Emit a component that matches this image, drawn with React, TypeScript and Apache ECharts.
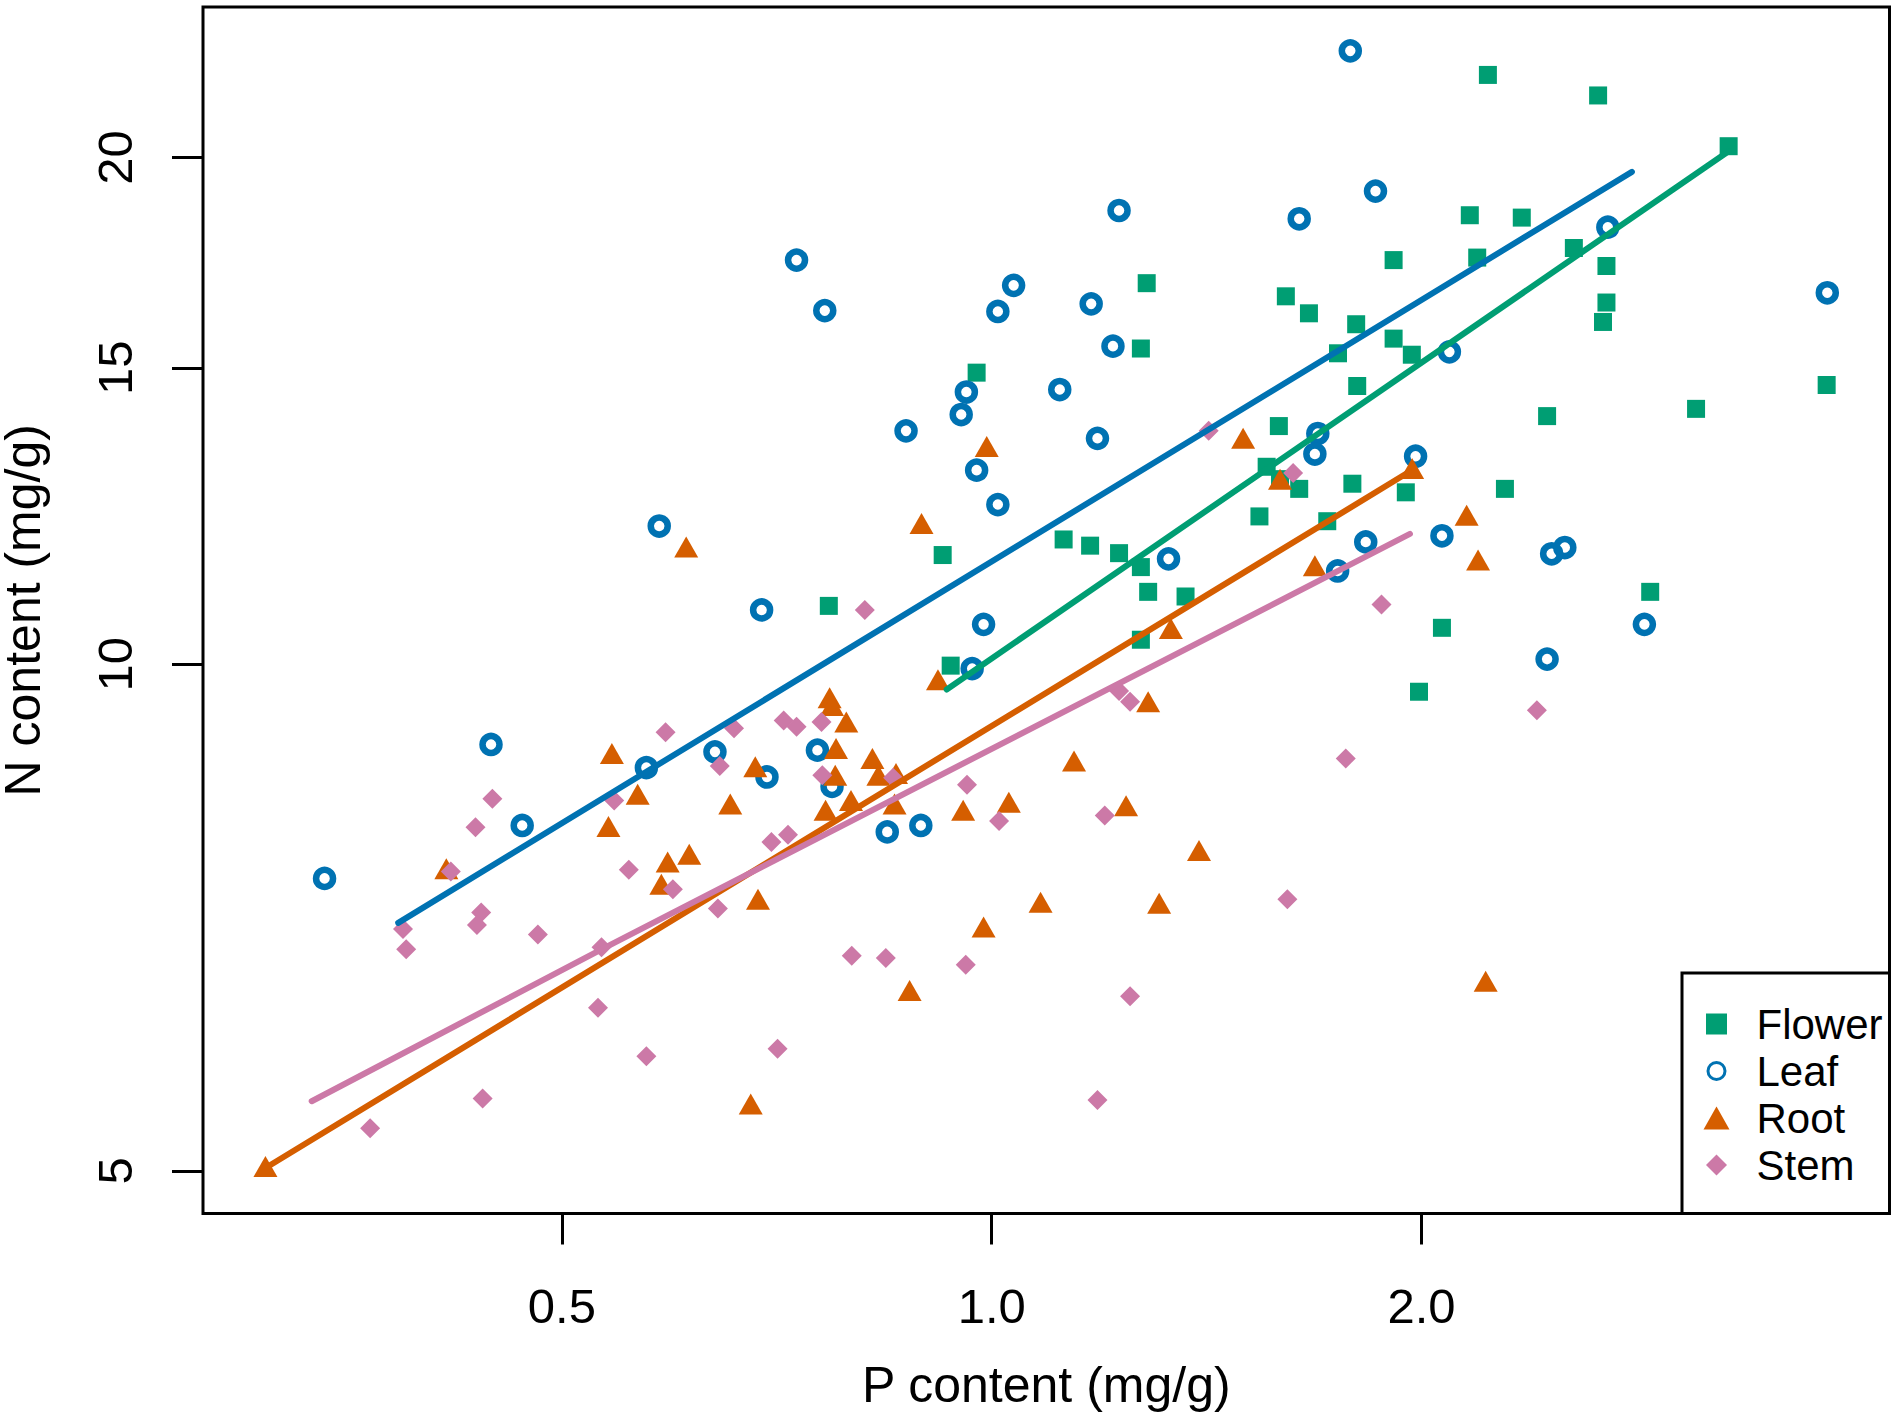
import React, { useEffect, useRef } from 'react';
import * as echarts from 'echarts';

// ---- data (P content, N content; mg/g) ----
const groupNames = ['Flower', 'Leaf', 'Root', 'Stem'];
const groupColors = ['#009E73', '#0072B2', '#D55E00', '#CC79A7'];

const flowerP = [2.226, 2.659, 3.282, 2.162, 2.351, 2.557, 1.912, 2.188, 2.695, 1.284, 1.607, 2.695, 1.668, 1.8, 2.68, 1.912, 1.272, 1.748, 1.969, 0.976, 3.844, 1.803, 3.114, 2.449, 1.589, 1.558, 1.592, 1.642, 1.789, 2.288, 1.95, 1.54, 1.718, 1.123, 1.172, 1.228, 0.924, 1.272, 1.287, 1.367, 2.892, 0.769, 1.272, 2.067, 0.936, 1.992];
const flowerN = [22.39, 21.77, 20.31, 18.48, 18.42, 17.67, 17.38, 17.44, 17.24, 16.84, 16.54, 16.4, 16.16, 15.92, 15.97, 15.61, 15.4, 15.3, 15.27, 14.9, 14.65, 14.63, 14.18, 14.04, 13.85, 13.1, 12.88, 12.71, 12.8, 12.71, 12.65, 12.24, 12.16, 11.86, 11.76, 11.64, 11.61, 11.42, 11.04, 10.97, 11.04, 10.83, 10.34, 10.51, 9.98, 9.63];

const leafP = [1.783, 1.857, 1.228, 1.642, 2.701, 0.73, 1.036, 3.848, 1.174, 1.01, 0.764, 1.216, 2.092, 1.116, 0.96, 0.952, 0.871, 1.186, 1.692, 1.684, 0.976, 1.981, 1.01, 0.585, 1.828, 2.067, 2.52, 2.467, 1.33, 1.747, 0.69, 0.987, 2.865, 2.449, 0.969, 0.446, 0.64, 0.755, 0.573, 0.696, 0.773, 0.469, 0.892, 0.845, 0.341];
const leafN = [23.14, 19.1, 18.6, 18.39, 18.18, 17.38, 16.79, 16.62, 16.37, 16.2, 16.22, 15.45, 15.33, 14.56, 14.51, 14.07, 13.76, 13.62, 13.71, 13.33, 13.04, 13.29, 12.44, 12.08, 11.82, 11.92, 11.73, 11.63, 11.55, 11.36, 10.77, 10.56, 10.56, 10.07, 9.94, 8.96, 8.87, 8.89, 8.68, 8.57, 8.46, 8.02, 8.02, 7.95, 7.46];

const rootP = [0.992, 1.5, 1.592, 1.97, 0.893, 0.611, 2.151, 2.191, 1.684, 1.335, 0.917, 0.77, 0.773, 0.791, 0.542, 0.778, 1.142, 0.683, 0.825, 0.857, 0.833, 0.777, 0.565, 0.656, 0.797, 1.028, 0.855, 0.765, 0.955, 1.242, 0.539, 0.614, 0.593, 1.397, 0.415, 0.587, 0.686, 1.082, 1.31, 0.987, 0.876, 2.218, 0.678, 0.31, 1.287];
const rootN = [13.47, 13.62, 12.88, 13.07, 12.12, 11.74, 12.26, 11.53, 11.44, 10.5, 9.79, 9.55, 9.45, 9.24, 8.85, 8.91, 8.76, 8.69, 8.79, 8.61, 8.59, 8.59, 8.37, 8.26, 8.3, 8.28, 8.26, 8.19, 8.19, 8.24, 8.01, 7.71, 7.63, 7.75, 7.56, 7.4, 7.25, 7.22, 7.21, 6.98, 6.4, 6.48, 5.48, 5.03, 9.5];

const stemP = [1.419, 1.626, 0.815, 1.875, 1.228, 1.25, 2.409, 0.591, 0.66, 0.715, 0.73, 0.76, 1.77, 0.645, 0.761, 0.853, 0.544, 0.447, 0.961, 1.2, 1.012, 0.435, 0.72, 0.701, 0.557, 0.418, 0.598, 0.643, 0.439, 0.436, 0.387, 0.481, 0.389, 0.533, 0.798, 0.843, 0.959, 1.611, 0.53, 1.25, 0.708, 0.573, 0.44, 1.186, 0.367];
const stemN = [13.76, 12.99, 10.77, 10.85, 9.64, 9.5, 9.39, 9.11, 9.16, 9.26, 9.18, 9.24, 8.79, 8.7, 8.59, 8.56, 8.3, 8.32, 8.48, 8.13, 8.07, 8.0, 7.92, 7.84, 7.55, 7.53, 7.35, 7.16, 7.12, 7.0, 6.96, 6.91, 6.77, 6.79, 6.71, 6.69, 6.63, 7.25, 6.25, 6.35, 5.91, 5.85, 5.52, 5.51, 5.3];

// fitted lines (end points)
const flowerFitP = [0.93, 3.282];
const flowerFitN = [9.66, 20.17];
const leafFitP = [0.384, 2.808];
const leafFitN = [7.02, 19.61];
const rootFitP = [0.31, 1.961];
const rootFitN = [5.02, 13.01];
const stemFitP = [0.334, 0.533, 1.963];
const stemFitN = [5.5, 6.77, 11.95];

// axes
const xTicks = [0.5, 1, 2];
const yTicks = [5, 10, 15, 20];
const xRange = [0.2803, 4.254];
const yRange = [4.717, 24.57];

const FONT = "'Liberation Sans', Arial, Helvetica, sans-serif";

const zip = (p: number[], n: number[]) => p.map((v, i) => [v, n[i]]);

const legendIcons = [
  'path://M0,0M26,26M2.5,2.5L23.5,2.5L23.5,23.5L2.5,23.5Z',
  'path://M0,0M26,26M21.5,13A8.5,8.5,0,1,1,4.5,13A8.5,8.5,0,1,1,21.5,13Z',
  'path://M0,0M26,26M13,1.5L26,24.5L0,24.5Z',
  'path://M0,0M26,26M13,2.5L23.5,13L13,23.5L2.5,13Z',
];

function buildOption() {
  const pts = [zip(flowerP, flowerN), zip(leafP, leafN), zip(rootP, rootN), zip(stemP, stemN)];
  const fits = [zip(flowerFitP, flowerFitN), zip(leafFitP, leafFitN), zip(rootFitP, rootFitN), zip(stemFitP, stemFitN)];

  const scatterStyles: any[] = [
    { symbol: 'rect', symbolSize: 18, itemStyle: { color: groupColors[0], opacity: 1 } },
    { symbol: 'circle', symbolSize: 17, itemStyle: { color: 'rgba(0,0,0,0)', borderColor: groupColors[1], borderWidth: 6.5, opacity: 1 } },
    { symbol: 'triangle', symbolSize: [24, 21], itemStyle: { color: groupColors[2], opacity: 1 } },
    { symbol: 'diamond', symbolSize: 20, itemStyle: { color: groupColors[3], opacity: 1 } },
  ];

  const series: any[] = [];
  groupNames.forEach((name, i) => {
    series.push({
      type: 'scatter',
      name,
      data: pts[i],
      ...scatterStyles[i],
      silent: true,
      emphasis: { disabled: true },
      z: 2,
    });
  });
  groupNames.forEach((name, i) => {
    series.push({
      type: 'line',
      name: name + ' fit',
      data: fits[i],
      symbol: 'none',
      showSymbol: false,
      lineStyle: { color: groupColors[i], width: 6, cap: 'round', opacity: 1 },
      itemStyle: { color: groupColors[i] },
      silent: true,
      emphasis: { disabled: true },
      z: 3,
    });
  });

  const labelStyle = { fontSize: 49, lineHeight: 49, color: '#000', fontFamily: FONT };
  const nameStyle = { fontSize: 50, lineHeight: 40, color: '#000', fontFamily: FONT };

  return {
    animation: false,
    backgroundColor: '#ffffff',
    textStyle: { fontFamily: FONT, color: '#000' },
    grid: {
      left: 203,
      right: 7.5,
      top: 7,
      bottom: 204.5,
      show: true,
      borderColor: '#000',
      borderWidth: 3,
      backgroundColor: 'rgba(0,0,0,0)',
      containLabel: false,
      outerBoundsMode: 'none',
    },
    xAxis: {
      type: 'log',
      logBase: 10,
      min: xRange[0],
      max: xRange[1],
      name: 'P content (mg/g)',
      nameLocation: 'middle',
      nameGap: 151,
      nameTextStyle: { ...nameStyle },
      axisLine: { show: false },
      splitLine: { show: false },
      minorTick: { show: false },
      axisTick: { show: true, inside: false, length: 31, lineStyle: { color: '#000', width: 3 }, customValues: xTicks },
      axisLabel: {
        ...labelStyle,
        margin: 68,
        customValues: xTicks,
        formatter: (v: number) => Number(v).toFixed(1),
      },
    },
    yAxis: {
      type: 'log',
      logBase: 10,
      min: yRange[0],
      max: yRange[1],
      name: 'N content (mg/g)',
      nameLocation: 'middle',
      nameRotate: 90,
      nameGap: 160,
      nameTextStyle: { ...nameStyle },
      axisLine: { show: false },
      splitLine: { show: false },
      minorTick: { show: false },
      axisTick: { show: true, inside: false, length: 31, lineStyle: { color: '#000', width: 3 }, customValues: yTicks },
      axisLabel: {
        ...labelStyle,
        rotate: 90,
        margin: 64,
        customValues: yTicks,
        formatter: (v: number) => String(Math.round(Number(v))),
      },
    },
    legend: {
      orient: 'vertical',
      left: 1702,
      top: 1003,
      padding: 0,
      itemWidth: 70,
      itemHeight: 26,
      itemGap: 5,
      selectedMode: false,
      symbolKeepAspect: true,
      textStyle: { fontSize: 42, lineHeight: 40, color: '#000', fontFamily: FONT },
      data: groupNames.map((name, i) => ({
        name,
        icon: legendIcons[i],
        itemStyle:
          i === 1
            ? { color: 'rgba(0,0,0,0)', borderColor: groupColors[1], borderWidth: 3, opacity: 1 }
            : { color: groupColors[i], borderWidth: 0, opacity: 1 },
      })),
      z: 5,
    },
    graphic: [
      {
        type: 'rect',
        shape: { x: 1682, y: 973, width: 207.5, height: 240.5 },
        style: { fill: '#ffffff', stroke: '#000', lineWidth: 3 },
        z: 4,
        silent: true,
      },
    ],
    series,
  };
}

export default function App() {
  const ref = useRef<HTMLDivElement>(null);
  useEffect(() => {
    if (!ref.current) return;
    const chart = echarts.init(ref.current, undefined, { renderer: 'svg' });
    chart.setOption(buildOption() as any);
    return () => {
      chart.dispose();
    };
  }, []);
  return (
    <div
      ref={ref}
      style={{ position: 'absolute', left: 0, top: 0, width: 1897, height: 1418, background: '#ffffff' }}
    />
  );
}
